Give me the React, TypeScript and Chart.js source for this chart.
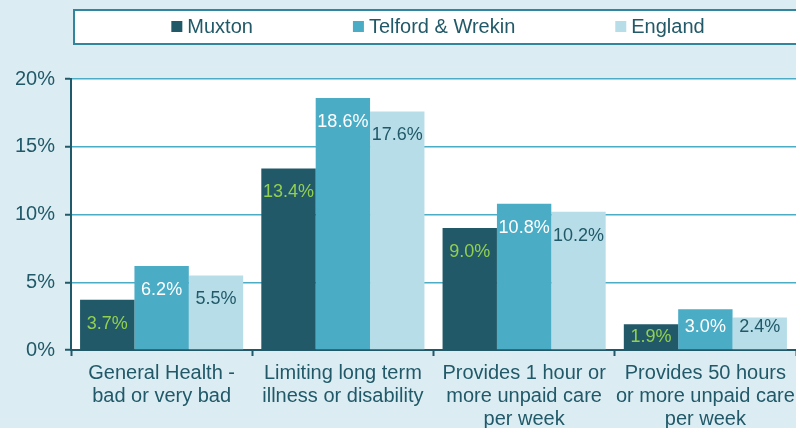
import React, { useEffect, useRef } from 'react';
import { Chart, registerables } from 'chart.js';

Chart.register(...registerables);

// ---- Data ----
const categories: string[][] = [
  ['General Health -', 'bad or very bad'],
  ['Limiting long term', 'illness or disability'],
  ['Provides 1 hour or', 'more unpaid care', 'per week'],
  ['Provides 50 hours', 'or more unpaid care', 'per week'],
];
const seriesNames = ['Muxton', 'Telford & Wrekin', 'England'];
const muxton = [3.7, 13.4, 9.0, 1.9];
const telford = [6.2, 18.6, 10.8, 3.0];
const england = [5.5, 17.6, 10.2, 2.4];
const yMin = 0;
const yMax = 20;
const yStep = 5;

// ---- Styles ----
const FONT = '"Liberation Sans", Arial, Helvetica, sans-serif';
const TEXT = '#215968';
const BG = '#dbedf3';
const GRID = '#4bacc6';
const barColors = ['#215968', '#4bacc6', '#b7dee8'];
const labelColors = ['#92d050', '#ffffff', '#215968'];

const decorPlugin = {
  id: 'decor',
  beforeDraw(chart: any) {
    const { ctx, chartArea: a, width, height } = chart;
    ctx.save();
    ctx.fillStyle = BG;
    ctx.fillRect(0, 0, width, height);
    ctx.fillStyle = '#ffffff';
    ctx.fillRect(a.left, a.top, a.right - a.left, a.bottom - a.top);

    // legend box
    ctx.fillStyle = '#ffffff';
    ctx.fillRect(74, 10, 740, 34);
    ctx.strokeStyle = '#31859c';
    ctx.lineWidth = 2;
    ctx.strokeRect(74, 10, 740, 34);

    ctx.font = `20px ${FONT}`;
    const ds = chart.data.datasets;
    const widths = ds.map((d: any) => 16 + ctx.measureText(d.label).width);
    const gap = 100;
    const total = widths.reduce((s: number, w: number) => s + w, 0) + gap * (ds.length - 1);
    let x = 438 - total / 2;
    ds.forEach((d: any, i: number) => {
      ctx.fillStyle = d.backgroundColor;
      ctx.fillRect(x, 21, 11, 11);
      ctx.fillStyle = TEXT;
      ctx.textBaseline = 'middle';
      ctx.textAlign = 'left';
      ctx.fillText(d.label, x + 16, 27);
      x += widths[i] + gap;
    });
    ctx.restore();
  },
  afterDatasetsDraw(chart: any) {
    const { ctx } = chart;
    ctx.save();
    ctx.font = `18px ${FONT}`;
    ctx.textAlign = 'center';
    ctx.textBaseline = 'middle';
    chart.data.datasets.forEach((d: any, di: number) => {
      const meta = chart.getDatasetMeta(di);
      meta.data.forEach((bar: any, i: number) => {
        const v = d.data[i];
        const top = bar.y;
        const base = bar.base;
        const h = base - top;
        const y = h < 30 ? (top + base) / 2 : Math.min(top + 24, base - 22);
        ctx.fillStyle = labelColors[di];
        ctx.fillText(v.toFixed(1) + '%', bar.x, y);
      });
    });
    ctx.restore();
  },
};

export default function App() {
  const ref = useRef<HTMLCanvasElement | null>(null);

  useEffect(() => {
    if (!ref.current) return;
    const series = [muxton, telford, england];
    const chart = new Chart(ref.current, {
      type: 'bar',
      data: {
        labels: categories,
        datasets: series.map((s, i) => ({
          label: seriesNames[i],
          data: s,
          backgroundColor: barColors[i],
          borderWidth: 0,
          categoryPercentage: 0.9,
          barPercentage: 1.0,
        })),
      },
      options: {
        animation: false,
        responsive: false,
        maintainAspectRatio: false,
        devicePixelRatio: 1,
        layout: { padding: { top: 79, left: 0, right: 0, bottom: 0 } },
        plugins: {
          legend: { display: false },
          tooltip: { enabled: false },
          title: { display: false },
        },
        scales: {
          x: {
            grid: {
              display: true,
              drawOnChartArea: false,
              drawTicks: true,
              tickLength: 6,
              tickColor: TEXT,
              tickWidth: 2,
              offset: true,
            },
            border: { display: true, color: TEXT, width: 2 },
            ticks: {
              color: TEXT,
              font: { family: FONT, size: 20, lineHeight: 1.15 },
              padding: 6,
              maxRotation: 0,
              autoSkip: false,
            },
            afterFit(scale: any) {
              scale.height = 78;
              scale.paddingLeft = 0;
              scale.paddingRight = 0;
            },
          },
          y: {
            min: yMin,
            max: yMax,
            ticks: {
              stepSize: yStep,
              color: TEXT,
              font: { family: FONT, size: 20 },
              padding: 10,
              callback: (v: any) => v + '%',
            },
            grid: {
              color: (c: any) => (c.tick && c.tick.value === 0 ? TEXT : GRID),
              lineWidth: 1.5,
              tickLength: 6,
              tickColor: TEXT,
              tickWidth: 2,
            },
            border: { display: true, color: TEXT, width: 2 },
            afterFit(scale: any) {
              scale.width = 71;
            },
          },
        },
      },
      plugins: [decorPlugin],
    } as any);
    return () => chart.destroy();
  }, []);

  return (
    <div style={{ position: 'fixed', left: 0, top: 0, width: 796, height: 428, background: BG, overflow: 'hidden' }}>
      <canvas ref={ref} width={796} height={428} style={{ width: 796, height: 428, display: 'block' }} />
    </div>
  );
}
